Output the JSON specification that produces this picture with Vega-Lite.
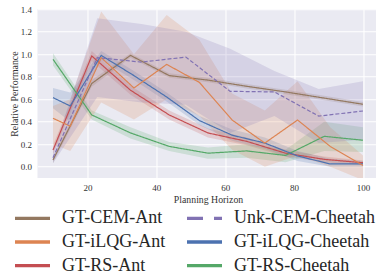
{
  "$schema": "https://vega.github.io/schema/vega-lite/v6.json",
  "width": 341,
  "height": 168.6,
  "autosize": {"type": "none"},
  "padding": {"left": 37.5, "top": 9.3, "right": 0, "bottom": 98.1},
  "background": "white",
  "config": {
    "view": {"fill": "#eaeaf2", "stroke": null},
    "axis": {
      "grid": true, "gridColor": "white", "gridWidth": 1.1, "domain": false, "ticks": false,
      "labelOverlap": false, "labelFlush": false, "labelBound": false,
      "labelFont": "Liberation Serif", "labelFontSize": 9, "labelColor": "#333333",
      "titleFont": "Liberation Serif", "titleFontSize": 9.8, "titleFontWeight": "normal", "titleColor": "#333333"
    }
  },
  "data": {"values": [
    {"s": "GT-CEM-Ant", "x": 10, "y": 0.06, "lo": 0.03, "hi": 0.09},
    {"s": "GT-CEM-Ant", "x": 21.25, "y": 0.74, "lo": 0.71, "hi": 0.77},
    {"s": "GT-CEM-Ant", "x": 32.5, "y": 0.99, "lo": 0.97, "hi": 1.01},
    {"s": "GT-CEM-Ant", "x": 43.75, "y": 0.81, "lo": 0.79, "hi": 0.83},
    {"s": "GT-CEM-Ant", "x": 55, "y": 0.77, "lo": 0.75, "hi": 0.79},
    {"s": "GT-CEM-Ant", "x": 66.25, "y": 0.715, "lo": 0.695, "hi": 0.735},
    {"s": "GT-CEM-Ant", "x": 77.5, "y": 0.665, "lo": 0.645, "hi": 0.685},
    {"s": "GT-CEM-Ant", "x": 88.75, "y": 0.61, "lo": 0.59, "hi": 0.63},
    {"s": "GT-CEM-Ant", "x": 100, "y": 0.555, "lo": 0.535, "hi": 0.575},

    {"s": "GT-RS-Ant", "x": 10, "y": 0.148, "lo": 0.11, "hi": 0.19},
    {"s": "GT-RS-Ant", "x": 21.25, "y": 0.985, "lo": 0.94, "hi": 1.03},
    {"s": "GT-RS-Ant", "x": 32.5, "y": 0.68, "lo": 0.64, "hi": 0.72},
    {"s": "GT-RS-Ant", "x": 43.75, "y": 0.46, "lo": 0.42, "hi": 0.5},
    {"s": "GT-RS-Ant", "x": 55, "y": 0.3, "lo": 0.26, "hi": 0.34},
    {"s": "GT-RS-Ant", "x": 66.25, "y": 0.225, "lo": 0.19, "hi": 0.26},
    {"s": "GT-RS-Ant", "x": 77.5, "y": 0.12, "lo": 0.09, "hi": 0.15},
    {"s": "GT-RS-Ant", "x": 88.75, "y": 0.065, "lo": 0.04, "hi": 0.09},
    {"s": "GT-RS-Ant", "x": 100, "y": 0.035, "lo": 0.015, "hi": 0.055},

    {"s": "GT-RS-Cheetah", "x": 10, "y": 0.955, "lo": 0.9, "hi": 1.01},
    {"s": "GT-RS-Cheetah", "x": 21.25, "y": 0.46, "lo": 0.42, "hi": 0.5},
    {"s": "GT-RS-Cheetah", "x": 32.5, "y": 0.3, "lo": 0.25, "hi": 0.35},
    {"s": "GT-RS-Cheetah", "x": 43.75, "y": 0.18, "lo": 0.14, "hi": 0.22},
    {"s": "GT-RS-Cheetah", "x": 55, "y": 0.12, "lo": 0.07, "hi": 0.17},
    {"s": "GT-RS-Cheetah", "x": 66.25, "y": 0.14, "lo": 0.08, "hi": 0.2},
    {"s": "GT-RS-Cheetah", "x": 77.5, "y": 0.1, "lo": 0.04, "hi": 0.15},
    {"s": "GT-RS-Cheetah", "x": 88.75, "y": 0.27, "lo": 0.14, "hi": 0.4},
    {"s": "GT-RS-Cheetah", "x": 100, "y": 0.235, "lo": 0.13, "hi": 0.35},

    {"s": "GT-iLQG-Cheetah", "x": 10, "y": 0.614, "lo": 0.52, "hi": 0.7},
    {"s": "GT-iLQG-Cheetah", "x": 15, "y": 0.54, "lo": 0.4, "hi": 0.66},
    {"s": "GT-iLQG-Cheetah", "x": 24, "y": 0.99, "lo": 0.95, "hi": 1.03},
    {"s": "GT-iLQG-Cheetah", "x": 33.5, "y": 0.81, "lo": 0.77, "hi": 0.85},
    {"s": "GT-iLQG-Cheetah", "x": 43, "y": 0.62, "lo": 0.58, "hi": 0.66},
    {"s": "GT-iLQG-Cheetah", "x": 52.5, "y": 0.41, "lo": 0.37, "hi": 0.45},
    {"s": "GT-iLQG-Cheetah", "x": 62, "y": 0.28, "lo": 0.23, "hi": 0.33},
    {"s": "GT-iLQG-Cheetah", "x": 71.5, "y": 0.21, "lo": 0.16, "hi": 0.26},
    {"s": "GT-iLQG-Cheetah", "x": 81, "y": 0.095, "lo": 0.05, "hi": 0.14},
    {"s": "GT-iLQG-Cheetah", "x": 90.5, "y": 0.024, "lo": 0.0, "hi": 0.07},
    {"s": "GT-iLQG-Cheetah", "x": 100, "y": 0.024, "lo": 0.0, "hi": 0.05},

    {"s": "GT-iLQG-Ant", "x": 10, "y": 0.43, "lo": 0.2, "hi": 0.54},
    {"s": "GT-iLQG-Ant", "x": 15, "y": 0.36, "lo": 0.14, "hi": 0.6},
    {"s": "GT-iLQG-Ant", "x": 24, "y": 0.97, "lo": 0.57, "hi": 1.38},
    {"s": "GT-iLQG-Ant", "x": 33.5, "y": 0.7, "lo": 0.42, "hi": 1.0},
    {"s": "GT-iLQG-Ant", "x": 43, "y": 0.91, "lo": 0.6, "hi": 1.35},
    {"s": "GT-iLQG-Ant", "x": 52.5, "y": 0.75, "lo": 0.45, "hi": 1.13},
    {"s": "GT-iLQG-Ant", "x": 62, "y": 0.415, "lo": 0.15, "hi": 0.65},
    {"s": "GT-iLQG-Ant", "x": 71.5, "y": 0.21, "lo": 0.0, "hi": 0.5},
    {"s": "GT-iLQG-Ant", "x": 81, "y": 0.415, "lo": 0.1, "hi": 0.76},
    {"s": "GT-iLQG-Ant", "x": 90.5, "y": 0.18, "lo": 0.0, "hi": 0.35},
    {"s": "GT-iLQG-Ant", "x": 100, "y": 0.01, "lo": -0.12, "hi": 0.1},

    {"s": "Unk-CEM-Cheetah", "x": 10, "y": 0.08, "lo": 0.03, "hi": 0.13},
    {"s": "Unk-CEM-Cheetah", "x": 22.86, "y": 0.97, "lo": 0.62, "hi": 1.32},
    {"s": "Unk-CEM-Cheetah", "x": 35.71, "y": 0.93, "lo": 0.57, "hi": 1.27},
    {"s": "Unk-CEM-Cheetah", "x": 48.57, "y": 0.975, "lo": 0.55, "hi": 1.2},
    {"s": "Unk-CEM-Cheetah", "x": 61.43, "y": 0.67, "lo": 0.3, "hi": 1.05},
    {"s": "Unk-CEM-Cheetah", "x": 74.29, "y": 0.665, "lo": 0.45, "hi": 0.85},
    {"s": "Unk-CEM-Cheetah", "x": 87.14, "y": 0.45, "lo": 0.21, "hi": 0.69},
    {"s": "Unk-CEM-Cheetah", "x": 100, "y": 0.495, "lo": 0.24, "hi": 0.76}
  ]},
  "encoding": {
    "x": {"field": "x", "type": "quantitative", "scale": {"domain": [5.5, 104.5], "nice": false, "zero": false},
          "axis": {"values": [20, 40, 60, 80, 100], "title": "Planning Horizon", "labelPadding": 6, "titlePadding": 2}},
    "color": {
      "field": "s", "type": "nominal",
      "scale": {
        "domain": ["GT-CEM-Ant", "GT-iLQG-Ant", "GT-RS-Ant", "Unk-CEM-Cheetah", "GT-iLQG-Cheetah", "GT-RS-Cheetah"],
        "range": ["#937860", "#dd8452", "#c44e52", "#8172b3", "#4c72b0", "#55a868"]
      },
      "legend": {
        "title": null, "orient": "none", "legendX": -14, "legendY": 200, "columns": 2,
        "symbolType": "M-3.5,0H3.5", "symbolSize": 100, "symbolStrokeWidth": 3.3, "symbolOpacity": 1,
        "labelFont": "Liberation Serif", "labelFontSize": 18, "labelColor": "#262626",
        "labelOffset": 20.5, "columnPadding": 14, "rowPadding": 5.7,
        "encode": {"symbols": {"update": {"strokeDash": {"signal": "datum.value === 'Unk-CEM-Cheetah' ? [16, 11] : [1, 0]"}}}}
      }
    }
  },
  "layer": [
    {
      "mark": {"type": "area", "opacity": 0.2, "clip": true},
      "encoding": {
        "y": {"field": "lo", "type": "quantitative", "scale": {"domain": [-0.1, 1.4], "nice": false, "zero": false},
              "axis": {"values": [0, 0.2, 0.4, 0.6, 0.8, 1.0, 1.2, 1.4], "format": ".1f", "title": "Relative Performance", "labelPadding": 6, "titlePadding": 1}},
        "y2": {"field": "hi"}
      }
    },
    {
      "mark": {"type": "line", "strokeWidth": 1.2, "clip": true},
      "encoding": {
        "y": {"field": "y", "type": "quantitative",
              "axis": {"values": [0, 0.2, 0.4, 0.6, 0.8, 1.0, 1.2, 1.4], "format": ".1f", "title": "Relative Performance", "labelPadding": 6, "titlePadding": 1}},
        "strokeDash": {"condition": {"test": "datum.s === 'Unk-CEM-Cheetah'", "value": [4, 2]}, "value": [1, 0]}
      }
    }
  ]
}
